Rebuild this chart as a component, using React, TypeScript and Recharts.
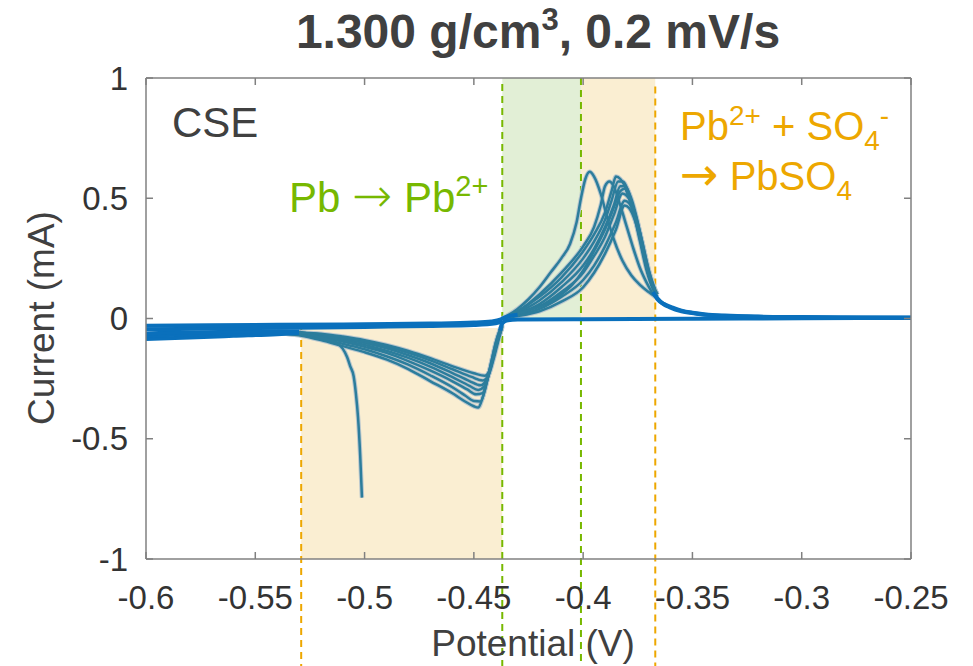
import { LineChart, Line, XAxis, YAxis, ReferenceArea, ReferenceLine } from "recharts";

const FONT = '"Liberation Sans", Arial, Helvetica, sans-serif';
const ARROW_FONT = '"DejaVu Sans", sans-serif';
const FRAME = "#808080";
const TEAL = "#2C7D9C";
const HALO = "#B9C7CE";
const BLUE = "#0A70BC";
const ORANGE = "#EDA700";
const GREEN = "#77B800";

const potentialTicks = [-0.6, -0.55, -0.5, -0.45, -0.4, -0.35, -0.3, -0.25];
const currentTicks = [-1, -0.5, 0, 0.5, 1];

// shaded regions and dashed guides (potential in V, current in mA)
const lowBandX = [-0.529, -0.437];
const lowBandY = [-1, -0.04];
const greenBandX = [-0.437, -0.401];
const orangeBandX = [-0.401, -0.367];
const upBandY = [0, 1];
const guideX = [-0.529, -0.437, -0.401, -0.367];
const guideTop = [-0.04, 0.975, 1, 0.965];
const guideBottom = -1.45;

// anodic (oxidation) peaks, one per cycle: [V, mA]
const anodic1 = [[-0.437, 0], [-0.43, 0.04], [-0.425, 0.08], [-0.42, 0.13], [-0.415, 0.19], [-0.41, 0.25], [-0.406, 0.31], [-0.403, 0.4], [-0.401, 0.5], [-0.399, 0.58], [-0.397, 0.61], [-0.395, 0.59], [-0.392, 0.52], [-0.389, 0.42], [-0.386, 0.33], [-0.382, 0.24], [-0.378, 0.18], [-0.374, 0.14], [-0.37, 0.11], [-0.367, 0.09]];
const anodic2 = [[-0.437, 0], [-0.43, 0.03], [-0.42, 0.1], [-0.41, 0.19], [-0.4, 0.3], [-0.395, 0.38], [-0.392, 0.47], [-0.39, 0.55], [-0.388, 0.57], [-0.386, 0.55], [-0.383, 0.47], [-0.38, 0.38], [-0.377, 0.29], [-0.374, 0.21], [-0.371, 0.15], [-0.368, 0.1]];
const anodic3 = [[-0.437, 0], [-0.43, 0.03], [-0.42, 0.09], [-0.41, 0.17], [-0.4, 0.28], [-0.395, 0.35], [-0.39, 0.44], [-0.387, 0.53], [-0.385, 0.59], [-0.383, 0.58], [-0.38, 0.53], [-0.377, 0.44], [-0.374, 0.32], [-0.371, 0.2], [-0.368, 0.12], [-0.366, 0.09]];
const anodic4 = [[-0.437, 0], [-0.43, 0.025], [-0.42, 0.075], [-0.41, 0.15], [-0.4, 0.25], [-0.395, 0.32], [-0.39, 0.41], [-0.387, 0.49], [-0.384, 0.57], [-0.382, 0.57], [-0.379, 0.52], [-0.376, 0.42], [-0.373, 0.3], [-0.37, 0.18], [-0.367, 0.11]];
const anodic5 = [[-0.437, 0], [-0.43, 0.02], [-0.42, 0.06], [-0.41, 0.13], [-0.4, 0.22], [-0.395, 0.29], [-0.39, 0.38], [-0.386, 0.47], [-0.383, 0.55], [-0.381, 0.55], [-0.378, 0.5], [-0.375, 0.4], [-0.372, 0.27], [-0.369, 0.16], [-0.366, 0.1]];
const anodic6 = [[-0.437, 0], [-0.43, 0.02], [-0.42, 0.05], [-0.41, 0.11], [-0.4, 0.19], [-0.395, 0.26], [-0.39, 0.34], [-0.386, 0.43], [-0.382, 0.52], [-0.38, 0.51], [-0.377, 0.46], [-0.374, 0.36], [-0.371, 0.24], [-0.368, 0.14], [-0.366, 0.1]];
const anodic7 = [[-0.437, 0], [-0.43, 0.015], [-0.42, 0.04], [-0.41, 0.09], [-0.4, 0.16], [-0.395, 0.22], [-0.39, 0.3], [-0.385, 0.4], [-0.381, 0.49], [-0.379, 0.48], [-0.376, 0.42], [-0.373, 0.32], [-0.37, 0.2], [-0.367, 0.12]];
const anodic8 = [[-0.437, 0], [-0.43, 0.01], [-0.42, 0.03], [-0.41, 0.07], [-0.4, 0.13], [-0.395, 0.19], [-0.39, 0.27], [-0.385, 0.37], [-0.381, 0.47], [-0.379, 0.46], [-0.376, 0.4], [-0.373, 0.3], [-0.37, 0.19], [-0.367, 0.11]];
const anodic9 = [[-0.437, 0], [-0.43, 0.02], [-0.425, 0.035], [-0.42, 0.05], [-0.415, 0.07], [-0.41, 0.1], [-0.405, 0.14], [-0.4, 0.2], [-0.395, 0.28], [-0.39, 0.37], [-0.386, 0.46], [-0.383, 0.53], [-0.381, 0.54], [-0.379, 0.5], [-0.376, 0.41], [-0.373, 0.29], [-0.37, 0.18], [-0.367, 0.11]];

// cathodic (reduction) peaks, one per cycle
const cathodic1 = [[-0.54, -0.06], [-0.53, -0.07], [-0.52, -0.09], [-0.51, -0.115], [-0.5, -0.14], [-0.49, -0.17], [-0.48, -0.21], [-0.47, -0.26], [-0.46, -0.31], [-0.454, -0.345], [-0.45, -0.365], [-0.448, -0.37], [-0.446, -0.33], [-0.444, -0.26], [-0.442, -0.18], [-0.44, -0.1], [-0.438, -0.045], [-0.437, -0.02]];
const cathodic2 = [[-0.54, -0.06], [-0.53, -0.068], [-0.52, -0.085], [-0.51, -0.105], [-0.5, -0.128], [-0.49, -0.157], [-0.48, -0.192], [-0.47, -0.236], [-0.46, -0.285], [-0.454, -0.32], [-0.45, -0.343], [-0.447, -0.345], [-0.445, -0.3], [-0.443, -0.22], [-0.441, -0.14], [-0.439, -0.07], [-0.437, -0.025]];
const cathodic3 = [[-0.54, -0.058], [-0.53, -0.065], [-0.52, -0.078], [-0.51, -0.096], [-0.5, -0.118], [-0.49, -0.143], [-0.48, -0.177], [-0.47, -0.216], [-0.46, -0.26], [-0.453, -0.295], [-0.449, -0.315], [-0.446, -0.31], [-0.444, -0.26], [-0.442, -0.19], [-0.44, -0.12], [-0.438, -0.055], [-0.437, -0.025]];
const cathodic4 = [[-0.54, -0.057], [-0.53, -0.063], [-0.52, -0.074], [-0.51, -0.09], [-0.5, -0.11], [-0.49, -0.134], [-0.48, -0.164], [-0.47, -0.2], [-0.46, -0.243], [-0.452, -0.28], [-0.448, -0.297], [-0.445, -0.28], [-0.443, -0.23], [-0.441, -0.16], [-0.439, -0.09], [-0.437, -0.03]];
const cathodic5 = [[-0.54, -0.056], [-0.53, -0.061], [-0.52, -0.07], [-0.51, -0.085], [-0.5, -0.102], [-0.49, -0.124], [-0.48, -0.153], [-0.47, -0.186], [-0.46, -0.226], [-0.452, -0.26], [-0.447, -0.278], [-0.444, -0.25], [-0.442, -0.19], [-0.44, -0.12], [-0.438, -0.06], [-0.437, -0.03]];
const cathodic6 = [[-0.54, -0.055], [-0.53, -0.059], [-0.52, -0.066], [-0.51, -0.08], [-0.5, -0.096], [-0.49, -0.117], [-0.48, -0.143], [-0.47, -0.174], [-0.46, -0.21], [-0.451, -0.243], [-0.446, -0.258], [-0.443, -0.23], [-0.441, -0.17], [-0.439, -0.1], [-0.437, -0.035]];
const cathodic7 = [[-0.54, -0.055], [-0.53, -0.058], [-0.52, -0.063], [-0.51, -0.075], [-0.5, -0.09], [-0.49, -0.11], [-0.48, -0.135], [-0.47, -0.165], [-0.46, -0.198], [-0.45, -0.228], [-0.445, -0.238], [-0.443, -0.22], [-0.441, -0.16], [-0.439, -0.09], [-0.437, -0.035]];

// first-cycle transient
const transient = [[-0.53, -0.055], [-0.525, -0.065], [-0.52, -0.08], [-0.516, -0.09], [-0.513, -0.1], [-0.51, -0.125], [-0.508, -0.16], [-0.5065, -0.2], [-0.505, -0.24], [-0.504, -0.31], [-0.503, -0.41], [-0.502, -0.57], [-0.5012, -0.745]];

// near-zero baseline segments
const baseRight = [[-0.438, -0.05], [-0.437, -0.02], [-0.435, -0.008], [-0.43, -0.004], [-0.4, -0.003], [-0.35, -0.001], [-0.3, 0.001], [-0.25, 0.002]];
const tailA = [[-0.368, 0.11], [-0.366, 0.08], [-0.363, 0.06], [-0.359, 0.045], [-0.355, 0.033], [-0.35, 0.024], [-0.344, 0.017], [-0.335, 0.012], [-0.32, 0.008], [-0.3, 0.006], [-0.28, 0.004], [-0.25, 0.003]];
const tailB = [[-0.367, 0.095], [-0.364, 0.065], [-0.36, 0.045], [-0.355, 0.03], [-0.348, 0.02], [-0.34, 0.013], [-0.325, 0.008], [-0.3, 0.005], [-0.25, 0.004]];
const baseLeftA = [[-0.6, -0.03], [-0.57, -0.028], [-0.54, -0.026], [-0.5, -0.024], [-0.47, -0.021], [-0.45, -0.017], [-0.442, -0.012], [-0.438, -0.005], [-0.436, 0.004], [-0.433, 0.012], [-0.43, 0.016]];
const baseLeftB = [[-0.6, -0.045], [-0.57, -0.042], [-0.53, -0.038], [-0.5, -0.035], [-0.47, -0.031], [-0.45, -0.027], [-0.44, -0.02], [-0.437, -0.01]];
const baseLeftC = [[-0.6, -0.085], [-0.58, -0.079], [-0.56, -0.072], [-0.54, -0.065], [-0.53, -0.06]];
const baseLeftD = [[-0.6, -0.062], [-0.58, -0.058], [-0.56, -0.055], [-0.54, -0.054], [-0.53, -0.054]];
const baseLeftE = [[-0.6, -0.072], [-0.58, -0.066], [-0.56, -0.06], [-0.54, -0.058], [-0.53, -0.057]];

const pts = (a: number[][]) => a.map(([v, i]) => ({ v, i }));

const tealCurves = [anodic1, anodic2, anodic3, anodic4, anodic5, anodic6, anodic7, anodic8, anodic9, cathodic1, cathodic2, cathodic3, cathodic4, cathodic5, cathodic6, cathodic7, transient];
const blueCurves = [baseLeftC, baseLeftE, baseLeftD, baseLeftB, baseLeftA, baseRight, tailA, tailB];

const guideColors = [ORANGE, GREEN, GREEN, ORANGE];

const NoLabel = () => <g />;

export default function App() {
  const tickStyle = { fontSize: 33, fill: "#333", fontFamily: FONT };
  const tickLine = { stroke: FRAME, strokeWidth: 1.5 };
  return (
    <div style={{ position: "absolute", left: 0, top: 0, width: 973, height: 666, background: "#fff" }}>
      <LineChart width={973} height={666} margin={{ top: 78, right: 62, bottom: 59, left: 86 }}>
        <XAxis xAxisId={0} dataKey="v" type="number" domain={[-0.6, -0.25]} ticks={potentialTicks} interval={0}
          allowDataOverflow height={48} tickSize={0} tickMargin={27} tickLine={false}
          axisLine={{ stroke: FRAME, strokeWidth: 1.5 }} tick={tickStyle} />
        <XAxis xAxisId="xin" dataKey="v" type="number" domain={[-0.6, -0.25]} ticks={potentialTicks} interval={0}
          allowDataOverflow mirror tick={NoLabel} axisLine={false} tickSize={7} tickLine={tickLine} />
        <XAxis xAxisId="xtop" orientation="top" dataKey="v" type="number" domain={[-0.6, -0.25]} ticks={potentialTicks} interval={0}
          allowDataOverflow mirror tick={NoLabel} axisLine={{ stroke: FRAME, strokeWidth: 1.5 }} tickSize={7} tickLine={tickLine} />
        <YAxis yAxisId={0} type="number" domain={[-1, 1]} ticks={currentTicks} interval={0} allowDataOverflow
          width={60} tickSize={0} tickMargin={18} tickLine={false}
          axisLine={{ stroke: FRAME, strokeWidth: 1.5 }} tick={tickStyle} />
        <YAxis yAxisId="yin" type="number" domain={[-1, 1]} ticks={currentTicks} interval={0} allowDataOverflow
          mirror tick={NoLabel} axisLine={false} tickSize={7} tickLine={tickLine} />
        <YAxis yAxisId="yright" orientation="right" type="number" domain={[-1, 1]} ticks={currentTicks} interval={0} allowDataOverflow
          mirror tick={NoLabel} axisLine={{ stroke: FRAME, strokeWidth: 1.5 }} tickSize={7} tickLine={tickLine} />

        <ReferenceArea x1={lowBandX[0]} x2={lowBandX[1]} y1={lowBandY[0]} y2={lowBandY[1]} fill="#FAEED2" fillOpacity={1} stroke="none" />
        <ReferenceArea x1={greenBandX[0]} x2={greenBandX[1]} y1={upBandY[0]} y2={upBandY[1]} fill="#E2EFD6" fillOpacity={1} stroke="none" />
        <ReferenceArea x1={orangeBandX[0]} x2={orangeBandX[1]} y1={upBandY[0]} y2={upBandY[1]} fill="#FAEED2" fillOpacity={1} stroke="none" />

        {guideX.map((gx, k) => (
          <ReferenceLine key={"g" + k} ifOverflow="visible"
            segment={[{ x: gx, y: guideTop[k] }, { x: gx, y: guideBottom }]}
            stroke={guideColors[k]} strokeWidth={2} strokeDasharray="7 5" />
        ))}

        {/* invisible copies so the frame axes get a scale and draw their ticks */}
        <Line xAxisId="xin" yAxisId="yin" data={pts(baseRight)} dataKey="i" stroke="none" dot={false} activeDot={false} isAnimationActive={false} />
        <Line xAxisId="xtop" yAxisId="yright" data={pts(baseRight)} dataKey="i" stroke="none" dot={false} activeDot={false} isAnimationActive={false} />

        {tealCurves.map((c, k) => (
          <Line key={"h" + k} data={pts(c)} dataKey="i" type="monotone" stroke={HALO} strokeWidth={4.5}
            dot={false} activeDot={false} isAnimationActive={false} />
        ))}
        {tealCurves.map((c, k) => (
          <Line key={"t" + k} data={pts(c)} dataKey="i" type="monotone" stroke={TEAL} strokeWidth={2.5}
            dot={false} activeDot={false} isAnimationActive={false} />
        ))}
        {blueCurves.map((c, k) => (
          <Line key={"b" + k} data={pts(c)} dataKey="i" type="monotone" stroke={BLUE} strokeWidth={4}
            dot={false} activeDot={false} isAnimationActive={false} />
        ))}
      </LineChart>

      <svg width={973} height={666} style={{ position: "absolute", left: 0, top: 0, pointerEvents: "none" }} fontFamily={FONT}>
        <text x={538} y={48} textAnchor="middle" fontSize={48} fontWeight="bold" fill="#404040">
          1.300 g/cm<tspan dy={-18} fontSize={31}>3</tspan><tspan dy={18}>, 0.2 mV/s</tspan>
        </text>
        <text x={172} y={137} fontSize={42} fill="#404040">CSE</text>
        <text x={289} y={212} fontSize={42} fill={GREEN}>
          Pb <tspan fontFamily={ARROW_FONT} fontSize={48} fontWeight={200}>→</tspan> Pb<tspan dy={-16} fontSize={29}>2+</tspan>
        </text>
        <text x={680} y={140} fontSize={40} fill={ORANGE}>
          Pb<tspan dy={-15} fontSize={28}>2+</tspan><tspan dy={15}> + SO</tspan><tspan dy={10} fontSize={28}>4</tspan><tspan dy={-25} fontSize={28}>-</tspan>
        </text>
        <text x={680} y={190} fontSize={40} fill={ORANGE}>
          <tspan fontFamily={ARROW_FONT} fontSize={46}>→</tspan> PbSO<tspan dy={10} fontSize={28}>4</tspan>
        </text>
        <text transform="translate(54,318) rotate(-90)" textAnchor="middle" fontSize={37} fill="#404040">Current (mA)</text>
        <text x={533} y={656} textAnchor="middle" fontSize={37} fill="#404040">Potential (V)</text>
      </svg>
    </div>
  );
}
